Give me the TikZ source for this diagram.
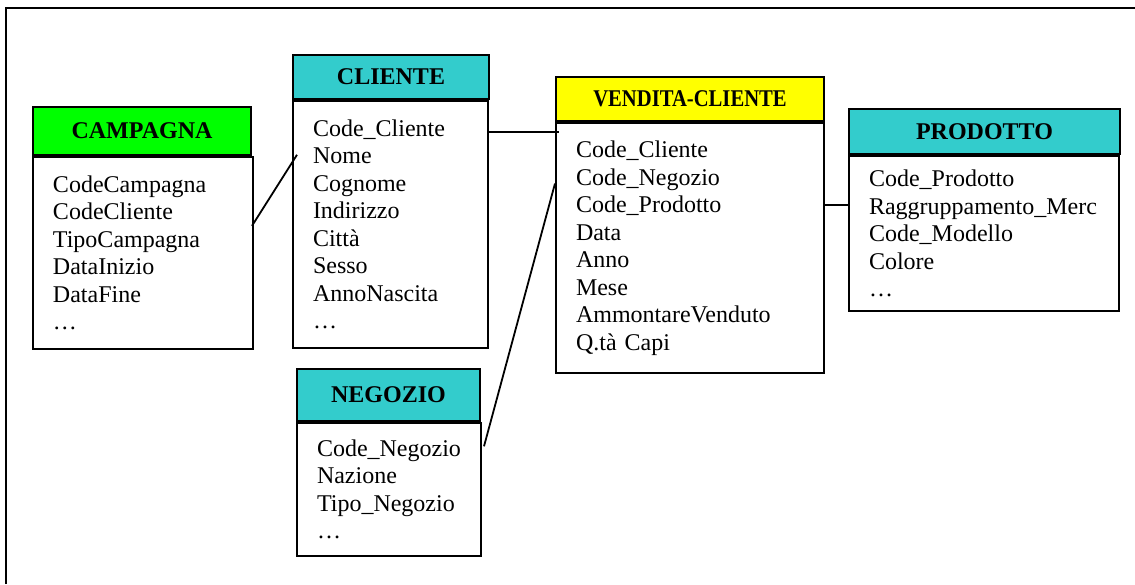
\documentclass[tikz,border=0pt]{standalone}
\usepackage{fontspec}
\setmainfont{Liberation Serif}
\usetikzlibrary{calc}
\definecolor{hgreen}{HTML}{00FF00}
\definecolor{hcyan}{HTML}{33CCCC}
\definecolor{hyellow}{HTML}{FFFF00}
\begin{document}
\begin{tikzpicture}[x=0.5pt,y=-0.5pt,
  every node/.style={font=\fontsize{12}{13.75}\selectfont},
  head/.style={draw,line width=1pt,anchor=north west,inner sep=0pt,font=\fontsize{12}{14}\selectfont\bfseries},
  body/.style={draw,line width=1pt,anchor=north west,align=left,inner xsep=10pt,inner ysep=0pt},
  link/.style={line width=0.9pt}]
  \useasboundingbox (0,0) rectangle (1135,584);
  \draw[line width=1pt] (6,584) -- (6,8) -- (1135,8);

  % tables
  \node[head,fill=hgreen,minimum width=109pt,minimum height=24pt] (campagnaH) at (32,106) {CAMPAGNA};
  \node[body,text width=90pt,minimum height=96pt] (campagna) at (campagnaH.south west)
    {CodeCampagna\\CodeCliente\\TipoCampagna\\DataInizio\\DataFine\\…};

  \node[head,fill=hcyan,minimum width=98pt,minimum height=22pt] (clienteH) at (292,54) {CLIENTE};
  \node[body,text width=77.5pt,minimum height=123.5pt] (cliente) at (clienteH.south west)
    {Code\_Cliente\\Nome\\Cognome\\Indirizzo\\Città\\Sesso\\AnnoNascita\\…};

  \node[head,fill=hyellow,minimum width=134pt,minimum height=22pt] (venditaH) at (555,76) {\scalebox{0.86}[1]{VENDITA-CLIENTE}};
  \node[body,text width=114pt,minimum height=125pt] (vendita) at (venditaH.south west)
    {Code\_Cliente\\Code\_Negozio\\Code\_Prodotto\\Data\\Anno\\Mese\\AmmontareVenduto\\Q.tà Capi};

  \node[head,fill=hcyan,minimum width=135.5pt,minimum height=22.5pt] (prodottoH) at (848,108) {PRODOTTO};
  \node[body,text width=115pt,minimum height=77.5pt] (prodotto) at (prodottoH.south west)
    {Code\_Prodotto\\Raggruppamento\_Merc\\Code\_Modello\\Colore\\…};

  \node[head,fill=hcyan,minimum width=91.5pt,minimum height=26pt] (negozioH) at (296,368) {NEGOZIO};
  \node[body,text width=72pt,minimum height=66.5pt] (negozio) at (negozioH.south west)
    {Code\_Negozio\\Nazione\\Tipo\_Negozio\\…};

  % links
  \draw[link] ($(campagna.north east)!0.36!(campagna.south east)+(-2,0)$) -- ($(cliente.north west)!0.22!(cliente.south west)+(5,0)$);
  \draw[link] ($(cliente.north east)!0.13!(cliente.south east)$) coordinate (c1) -- ($(vendita.west |- c1)+(4,0)$);
  \draw[link] ($(negozio.north east)!0.18!(negozio.south east)+(2,0)$) -- ($(vendita.north west)!0.244!(vendita.south west)$);
  \draw[link] ($(vendita.north east)!0.33!(vendita.south east)$) coordinate (v1) -- (prodotto.west |- v1);
\end{tikzpicture}
\end{document}
